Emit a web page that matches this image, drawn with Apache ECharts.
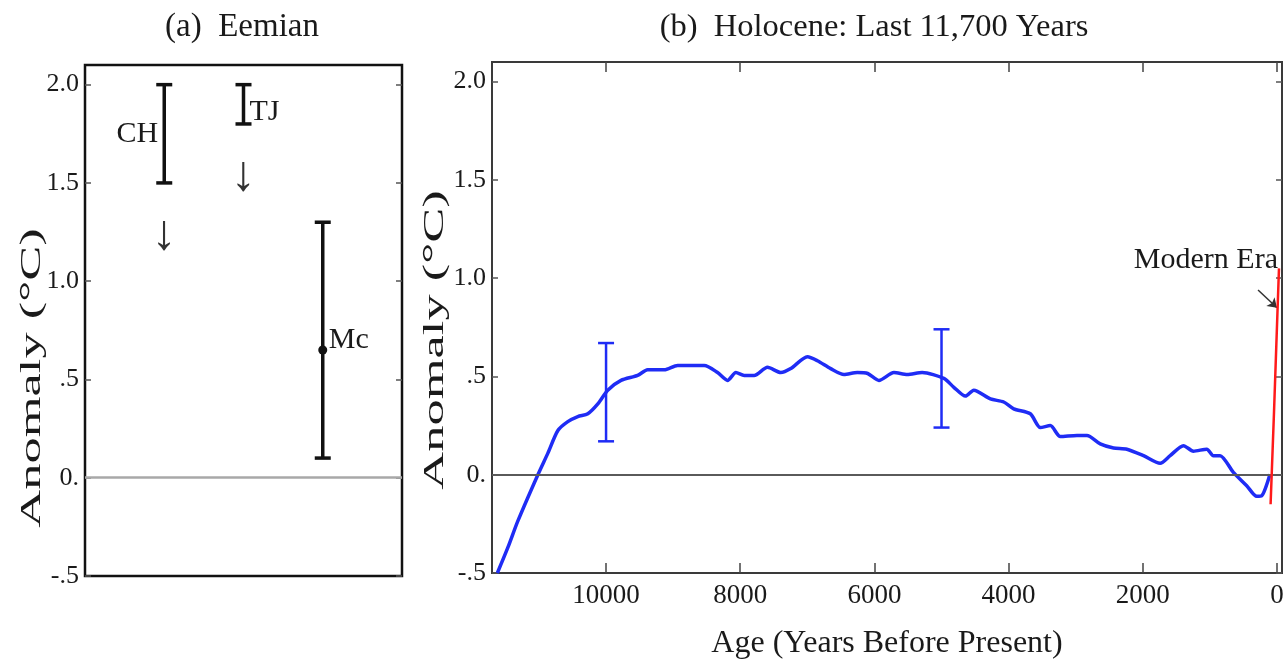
<!DOCTYPE html>
<html>
<head>
<meta charset="utf-8">
<script src="https://cdn.jsdelivr.net/npm/echarts@6/dist/echarts.min.js"></script>
<style>
  html, body { margin: 0; padding: 0; background: #fff; }
  #chart { width: 1286px; height: 671px; }
</style>
</head>
<body>
<div id="chart"></div>
<script>
// Anomaly axis ticks, shared by both panels
const anomalyTicks = [-0.5, 0, 0.5, 1.0, 1.5, 2.0];
const anomalyTickLabels = ['-.5', '0.', '.5', '1.0', '1.5', '2.0'];

// Age axis ticks (years before present)
const ageTicks = [0, 2000, 4000, 6000, 8000, 10000];
const ageTickLabels = ['0', '2000', '4000', '6000', '8000', '10000'];

// (a) Eemian estimates
const eemianSites = ['CH', 'TJ', 'Mc'];
const eemianLow = [1.5, 1.8, 0.1];
const eemianHigh = [2.0, 2.0, 1.3];
const eemianCentral = [null, null, 0.65];
const eemianLabelAt = [1.75, 1.86, 0.70];
const eemianLabelSide = ['left', 'right', 'right'];
const eemianArrowAt = [1.23, 1.53, null];

// (b) Holocene reconstruction
const holoceneAge = [11620, 11463, 11314, 11016, 10867, 10718, 10570, 10421, 10272, 10123,
  9975, 9777, 9529, 9380, 9132, 8933, 8537, 8338, 8189, 8065,
  7941, 7793, 7594, 7396, 7247, 6999, 6850, 6652, 6454, 6255,
  6100, 5933, 5709, 5511, 5288, 4965, 4816, 4643, 4519, 4271,
  4073, 3924, 3676, 3527, 3378, 3229, 2981, 2832, 2634, 2436,
  2237, 1989, 1741, 1592, 1394, 1245, 1046, 948, 848, 650,
  451, 302, 228, 104];
const holoceneAnomaly = [-0.5, -0.37, -0.235, 0.0, 0.11, 0.225, 0.27, 0.296, 0.31, 0.36,
  0.43, 0.48, 0.505, 0.534, 0.534, 0.556, 0.556, 0.52, 0.48, 0.52,
  0.505, 0.505, 0.547, 0.52, 0.54, 0.6, 0.58, 0.54, 0.51, 0.52,
  0.515, 0.48, 0.52, 0.51, 0.52, 0.49, 0.445, 0.40, 0.43, 0.386,
  0.37, 0.335, 0.31, 0.24, 0.25, 0.194, 0.2, 0.2, 0.157, 0.136,
  0.13, 0.097, 0.058, 0.097, 0.148, 0.12, 0.13, 0.097, 0.097, 0.012,
  -0.056, -0.11, -0.107, 0.003];
const holoceneErrAge = [10000, 5000];
const holoceneErrLow = [0.17, 0.24];
const holoceneErrHigh = [0.67, 0.74];

// Modern instrumental era
const modernAge = [95, 45, -30];
const modernAnomaly = [-0.15, 0.31, 1.05];
const modernLabel = 'Modern Era';
const modernLabelAt = [-15, 1.09];
const modernArrowFrom = [282, 0.94];
const modernArrowTo = [0, 0.85];

const SERIF = '"Liberation Serif", "DejaVu Serif", serif';
const TEXT = '#1a1a1a';

const fmtAnomaly = v => {
  const i = anomalyTicks.findIndex(t => Math.abs(t - v) < 1e-9);
  return i >= 0 ? anomalyTickLabels[i] : '';
};
const fmtAge = v => {
  const i = ageTicks.findIndex(t => Math.abs(t - v) < 1e-9);
  return i >= 0 ? ageTickLabels[i] : '';
};

// Vertical bar with caps, drawn through the axis scales
function errorBar(capHalf, color, width) {
  return function (params, api) {
    const x = api.value(0);
    const pLo = api.coord([x, api.value(1)]);
    const pHi = api.coord([x, api.value(2)]);
    const style = { stroke: color, lineWidth: width };
    return {
      type: 'group',
      children: [
        { type: 'line', shape: { x1: pLo[0], y1: pLo[1], x2: pHi[0], y2: pHi[1] }, style },
        { type: 'line', shape: { x1: pLo[0] - capHalf, y1: pLo[1], x2: pLo[0] + capHalf, y2: pLo[1] }, style },
        { type: 'line', shape: { x1: pHi[0] - capHalf, y1: pHi[1], x2: pHi[0] + capHalf, y2: pHi[1] }, style }
      ]
    };
  };
}

function anomalyAxis(gridIndex, withLabels, position) {
  return {
    gridIndex, type: 'value', min: -0.5, max: 2.1, position,
    axisLine: { show: false, onZero: false },
    splitLine: { show: false },
    axisTick: { show: true, inside: true, length: 6, customValues: anomalyTicks,
      lineStyle: { color: '#555', width: 1.5 } },
    axisLabel: { show: withLabels, customValues: anomalyTicks, formatter: fmtAnomaly, margin: 6,
      fontFamily: SERIF, fontSize: 26, color: TEXT }
  };
}

function ageAxis(position, withLabels) {
  return {
    gridIndex: 1, type: 'value', inverse: true, min: -75, max: 11700, position,
    axisLine: { show: false, onZero: false },
    splitLine: { show: false },
    axisTick: { show: true, inside: true, length: 10, customValues: ageTicks,
      lineStyle: { color: '#444', width: 1.5 } },
    axisLabel: { show: withLabels, customValues: ageTicks, formatter: fmtAge, margin: 9,
      fontFamily: SERIF, fontSize: 27, color: TEXT }
  };
}

const sitePos = eemianSites.map((s, i) => i + 1);

const chart = echarts.init(document.getElementById('chart'), null, { renderer: 'canvas' });
chart.setOption({
  animation: false,
  backgroundColor: '#fff',
  grid: [
    { left: 85, top: 65, width: 317, height: 511, show: true, borderColor: '#111', borderWidth: 2.5,
      outerBoundsMode: 'none', containLabel: false },
    { left: 492, top: 62, width: 790, height: 511, show: true, borderColor: '#3a3a3a', borderWidth: 2,
      outerBoundsMode: 'none', containLabel: false }
  ],
  xAxis: [
    { gridIndex: 0, type: 'value', min: 0, max: 4, show: false },
    ageAxis('bottom', true),
    ageAxis('top', false)
  ],
  yAxis: [
    anomalyAxis(0, true, 'left'),
    anomalyAxis(0, false, 'right'),
    anomalyAxis(1, true, 'left'),
    anomalyAxis(1, false, 'right')
  ],
  graphic: [
    { type: 'text', x: 242, y: 27, style: { text: '(a)  Eemian', font: '33px ' + SERIF, fill: TEXT, align: 'center', verticalAlign: 'middle' } },
    { type: 'text', x: 874, y: 27, style: { text: '(b)  Holocene: Last 11,700 Years', font: '32.5px ' + SERIF, fill: TEXT, align: 'center', verticalAlign: 'middle' } },
    { type: 'text', x: 887, y: 644, style: { text: 'Age (Years Before Present)', font: '32px ' + SERIF, fill: TEXT, align: 'center', verticalAlign: 'middle' } },
    { type: 'text', x: 32, y: 378, rotation: Math.PI / 2, scaleX: 1.75,
      style: { text: 'Anomaly (°C)', font: '30px ' + SERIF, fill: TEXT, align: 'center', verticalAlign: 'middle' } },
    { type: 'text', x: 435, y: 340, rotation: Math.PI / 2, scaleX: 1.75,
      style: { text: 'Anomaly (°C)', font: '30px ' + SERIF, fill: TEXT, align: 'center', verticalAlign: 'middle' } }
  ],
  series: [
    // (a) Eemian ranges
    {
      type: 'custom', xAxisIndex: 0, yAxisIndex: 0,
      renderItem: errorBar(8, '#111', 3.5),
      encode: { x: 0, y: [1, 2] },
      data: sitePos.map((x, i) => [x, eemianLow[i], eemianHigh[i]]),
      markLine: {
        silent: true, symbol: 'none', label: { show: false },
        lineStyle: { color: '#a8a8a8', width: 2.5, type: 'solid' },
        data: [{ yAxis: 0 }]
      },
      z: 3
    },
    {
      type: 'scatter', xAxisIndex: 0, yAxisIndex: 0,
      symbol: 'circle', symbolSize: 9, itemStyle: { color: '#111', opacity: 1 },
      data: sitePos.map((x, i) => [x, eemianCentral[i]]).filter(d => d[1] !== null),
      z: 4
    },
    {
      type: 'scatter', xAxisIndex: 0, yAxisIndex: 0, symbolSize: 0, silent: true,
      itemStyle: { opacity: 1 },
      data: sitePos.map((x, i) => ({
        value: [x, eemianLabelAt[i]],
        label: { show: true, formatter: eemianSites[i], position: eemianLabelSide[i], distance: 6,
          fontFamily: SERIF, fontSize: 30, color: TEXT, opacity: 1 }
      }))
    },
    {
      type: 'scatter', xAxisIndex: 0, yAxisIndex: 0, symbolSize: 0, silent: true,
      itemStyle: { opacity: 1 },
      data: sitePos.map((x, i) => [x, eemianArrowAt[i]]).filter(d => d[1] !== null),
      label: { show: true, formatter: '\u2193', position: 'inside',
        fontFamily: SERIF, fontSize: 50, color: '#333', opacity: 1 }
    },
    // (b) Holocene
    {
      type: 'line', xAxisIndex: 1, yAxisIndex: 2,
      data: holoceneAge.map((a, i) => [a, holoceneAnomaly[i]]),
      showSymbol: false, smooth: 0.25,
      lineStyle: { color: '#1f2cf5', width: 3.5 },
      markLine: {
        silent: true, symbol: 'none', label: { show: false },
        lineStyle: { color: '#5a5a5a', width: 1.8, type: 'solid' },
        data: [{ yAxis: 0 }]
      },
      z: 3
    },
    {
      type: 'custom', xAxisIndex: 1, yAxisIndex: 2,
      renderItem: errorBar(8, '#1f2cf5', 2.5),
      encode: { x: 0, y: [1, 2] },
      data: holoceneErrAge.map((a, i) => [a, holoceneErrLow[i], holoceneErrHigh[i]]),
      z: 4
    },
    {
      type: 'line', xAxisIndex: 1, yAxisIndex: 2,
      data: modernAge.map((a, i) => [a, modernAnomaly[i]]),
      showSymbol: false,
      lineStyle: { color: '#ff1a1a', width: 2.5 },
      z: 5
    },
    {
      type: 'scatter', xAxisIndex: 1, yAxisIndex: 2, symbolSize: 0, silent: true,
      itemStyle: { opacity: 1 },
      data: [modernLabelAt],
      label: { show: true, formatter: modernLabel, position: 'left', distance: 0,
        fontFamily: SERIF, fontSize: 30, color: TEXT, opacity: 1 },
      markLine: {
        silent: true, symbol: ['none', 'arrow'], symbolSize: 9, label: { show: false },
        lineStyle: { color: '#333', width: 1.5, type: 'solid' },
        data: [[{ coord: modernArrowFrom }, { coord: modernArrowTo }]]
      },
      z: 6
    }
  ]
});
</script>
</body>
</html>
